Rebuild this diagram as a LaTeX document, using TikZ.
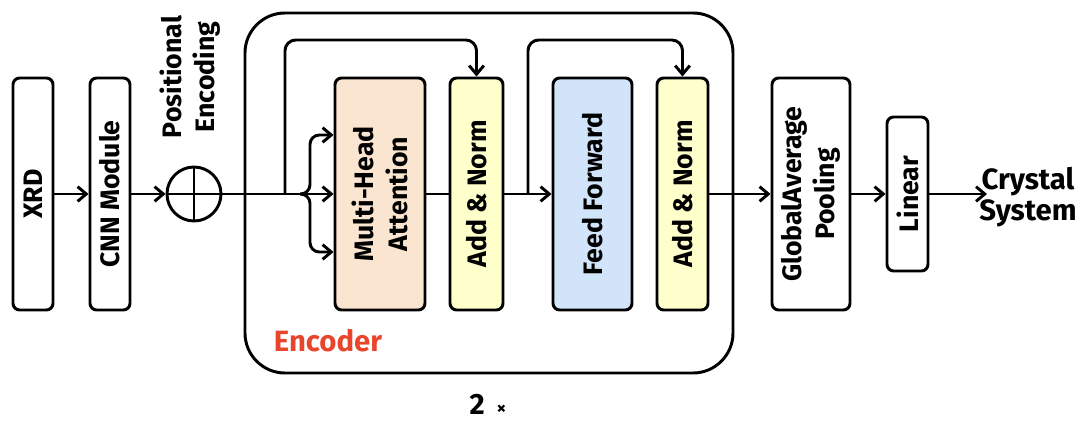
\documentclass[tikz,border=0pt]{standalone}
\usepackage{fontspec}
\setmainfont{Fira Sans}
\usetikzlibrary{arrows.meta,fit,calc}
\definecolor{peach}{HTML}{FAE5D0}
\definecolor{paleyellow}{HTML}{FFFFCC}
\definecolor{paleblue}{HTML}{D2E4FA}
\definecolor{encred}{HTML}{E8452C}
\begin{document}
\begin{tikzpicture}[x=0.75pt,y=-0.75pt,line width=2.2pt,
  blk/.style={draw, rounded corners=5pt, inner sep=0pt},
  lbl/.style={rotate=90, align=center, font=\fontsize{20}{25}\selectfont\bfseries},
  txt/.style={align=center, font=\fontsize{22}{23}\selectfont\bfseries},
  arr/.style={-{Straight Barb[length=6.5pt,width=11pt]}},
  skip/.style={arr, rounded corners=8pt}]
\useasboundingbox (0,0) rectangle (1083,421);

% input stages
\node[blk, fit={(13,78)(53,310)}] (xrd) {};
\node[lbl] at (xrd) {XRD};
\node[blk, fit={(90,78)(130,310)}] (cnn) {};
\node[lbl] at (cnn) {CNN Module};
\node[draw, circle, minimum size=40.5pt, inner sep=0pt] (pe) at (194,194) {};
\draw (pe.north) -- (pe.south) (pe.west) -- (pe.east);
\node[lbl] (pelbl) at (190,77) {Positional\\Encoding};

% encoder block
\node[draw, rounded corners=30pt, inner sep=0pt, fit={(245,13)(733,373)}] (enc) {};
\node[blk, fill=peach, fit={(335,78)(425,310)}] (mha) {};
\node[lbl] at (mha) {Multi-Head\\Attention};
\node[blk, fill=paleyellow, fit={(450,78)(503,310)}] (an1) {};
\node[lbl] at (an1) {Add \& Norm};
\node[blk, fill=paleblue, fit={(553,78)(632,310)}] (ff) {};
\node[lbl] at (ff) {Feed Forward};
\node[blk, fill=paleyellow, fit={(657,78)(708,310)}] (an2) {};
\node[lbl] at (an2) {Add \& Norm};
\node[txt, text=encred] (enclbl) at (328,341) {Encoder};
\node[txt] (rep) at (488,404) {2\hspace{0.4em}{\fontsize{14}{14}\selectfont×}};

% output stages
\node[blk, fit={(772,78)(850,310)}] (gap) {};
\node[lbl] at (gap) {GlobalAverage\\Pooling};
\node[blk, fit={(887,117)(928,271)}] (lin) {};
\node[lbl] at (lin) {Linear};
\node[txt] (cs) at (1028,197) {Crystal\\System};

% helper points
\coordinate (topY) at (0,40);
\coordinate (hiY) at (0,135);
\coordinate (loY) at (0,252);
\coordinate (skipA) at (285,194);
\coordinate (split) at (300,194);
\coordinate (skipB) at (528,194);
\coordinate (out) at (987,194);

% connectors
\draw[arr] (xrd) -- (cnn);
\draw[arr] (cnn) -- (pe);
\draw[arr] (pe.east) -- (mha.west);
\draw[arr, rounded corners=7pt] (split) -| (310,135) -- (mha.west |- hiY);
\draw[arr, rounded corners=7pt] (split) -| (310,252) -- (mha.west |- loY);
\draw[skip] (skipA) |- (an1.north |- topY) -- (an1.north);
\draw (mha) -- (an1);
\draw[arr] (an1) -- (ff);
\draw[skip] (skipB) |- (an2.north |- topY) -- (an2.north);
\draw[arr] (an2) -- (gap);
\draw[arr] (gap) -- (lin);
\draw[arr] (lin) -- (out);
\end{tikzpicture}
\end{document}
